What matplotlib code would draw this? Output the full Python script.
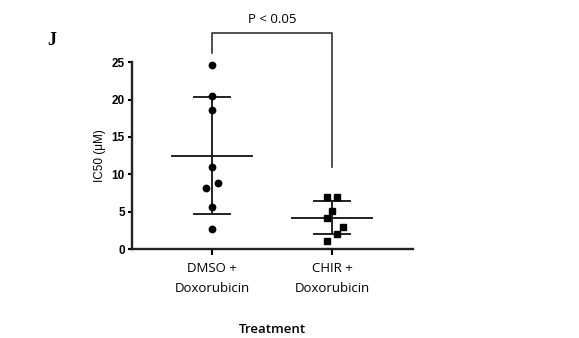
import matplotlib.pyplot as plt
import numpy as np

groups = ['DMSO +\nDoxorubicin', 'CHIR +\nDoxorubicin']
dmso = [24.6, 20.5, 18.6, 11.0, 8.8, 8.2, 5.6, 2.7]
dmso_dx = [0, 0, 0, 0, 0.047, -0.05, 0, 0]
chir = [7.0, 6.9, 5.1, 4.1, 2.9, 2.05, 1.1]
chir_dx = [-0.047, 0.042, 0, -0.047, 0.092, 0.042, -0.047]
means = [12.45, 4.2]
sd_lo = [4.7, 1.96]
sd_hi = [20.3, 6.4]

fig = plt.figure(figsize=(5.79, 3.38), dpi=100)
ax = fig.add_axes([0.2275, 0.2633, 0.4853, 0.5524])

ax.plot(np.array(dmso_dx) + 0, dmso, 'o', color='black', ms=4.6, clip_on=False, zorder=3)
ax.plot(np.array(chir_dx) + 1, chir, 's', color='black', ms=5.0, clip_on=False, zorder=3)

for i in range(2):
    ax.plot([i - 0.335, i + 0.335], [means[i]] * 2, color='#222222', lw=1.4)
    ax.plot([i, i], [sd_lo[i], sd_hi[i]], color='#222222', lw=1.4)
    ax.plot([i - 0.15, i + 0.15], [sd_lo[i]] * 2, color='#222222', lw=1.4)
    ax.plot([i - 0.15, i + 0.15], [sd_hi[i]] * 2, color='#222222', lw=1.4)

# significance bracket
ax.plot([0, 0, 1, 1], [26.2, 28.9, 28.9, 11.0], color='#333333', lw=1.2, clip_on=False)
ax.text(0.5, 29.9, 'P < 0.05', ha='center', va='bottom', fontsize=9.5, family='Open Sans')

ax.set_xlim(-0.67, 1.67)
ax.set_ylim(0, 25)
ax.set_yticks([0, 5, 10, 15, 20, 25])
ax.set_xticks([0, 1])
ax.set_xticklabels(groups, fontsize=9.5, family='Open Sans', linespacing=1.75)
for lbl in ax.get_yticklabels():
    lbl.set_fontweight('bold')
    lbl.set_fontsize(8.5)
    lbl.set_family('Liberation Sans')
ax.tick_params(axis='y', length=3, width=1.5, pad=2)
ax.tick_params(axis='x', length=4, width=1.5, pad=5)
for s in ['top', 'right']:
    ax.spines[s].set_visible(False)
for s in ['left', 'bottom']:
    ax.spines[s].set_linewidth(1.7)
    ax.spines[s].set_color('#222222')

ax.set_ylabel('IC50 (\u03bcM)', fontsize=8.5, family='Liberation Sans', labelpad=4)
ax.set_xlabel('Treatment', fontsize=9.5, family='Open Sans', fontweight='semibold', labelpad=20)

fig.text(0.09, 0.88, 'J', fontsize=13, fontweight='bold', family='Liberation Serif', ha='center', va='center')

fig.savefig('out.png', dpi=100)
